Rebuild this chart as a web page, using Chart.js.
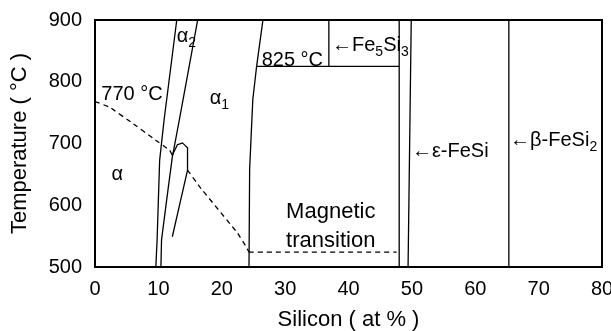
<!DOCTYPE html>
<html>
<head>
<meta charset="utf-8">
<script src="https://cdn.jsdelivr.net/npm/chart.js@4.4.1/dist/chart.umd.min.js"></script>
<style>
    html, body { margin: 0; padding: 0; background: #fff; }
</style>
</head>
<body>
<canvas id="chartFase" width="611" height="331"></canvas>
<script>
const xTicks = [0, 10, 20, 30, 40, 50, 60, 70, 80];
const yTicks = [500, 600, 700, 800, 900];

const alphaEsqSi = [12.9, 10.9, 10.2, 9.8, 9.6];
const alphaEsqT = [900, 738, 673, 544, 500];
const alphaDirSi = [16.2, 13.3, 12.2, 11.3, 10.5, 10.4];
const alphaDirT = [900, 738, 678, 608, 544, 500];
const laçoSi = [12.2, 13.0, 13.8, 14.6, 14.6, 14.6, 12.2];
const laçoT = [681, 698, 701, 693, 685, 657, 549];
const fe3SiSi = [26.5, 25.5, 24.9, 24.4, 24.3];
const fe3SiT = [900, 825, 771, 658, 500];
const eutetoideSi = [25.5, 48.0];
const eutetoideT = [825, 825];
const fe5Si3Si = [36.9, 36.9];
const fe5Si3T = [825, 900];
const feSiEsqSi = [48.0, 48.0];
const feSiEsqT = [900, 500];
const feSiDirSi = [49.9, 49.4];
const feSiDirT = [900, 500];
const feSi2Si = [65.3, 65.3];
const feSi2T = [900, 500];

const curieAltaSi = [0, 2.3, 5.9, 9.1, 11.8, 12.2];
const curieAltaT = [768, 759, 733, 709, 689, 681];
const curieBaixaSi = [14.6, 16.5, 22.5, 23.9, 24.3];
const curieBaixaT = [657, 630, 555, 532, 524];
const magneticaSi = [24.3, 47.6];
const magneticaT = [524, 524];

const rotulos = ["770 °C", "α_2", "α_1", "α", "825 °C", "←Fe_5Si_3", "←ε-FeSi", "←β-FeSi_2", "Magnetic", "transition"];
const rotuloSi = [1.0, 12.9, 18.1, 2.6, 26.3, 37.4, 50.0, 65.5, 37.2, 37.2];
const rotuloT = [770, 864, 764, 641, 825.5, 850, 678, 696, 579, 532];
const rotuloAlinha = ["left", "left", "left", "left", "left", "left", "left", "left", "center", "center"];
const rotuloTam = [20, 20, 20, 20, 20, 20, 20, 20, 22, 22];

const fonte = "'Liberation Sans', Arial, sans-serif";
const pares = (si, t) => si.map((x, i) => ({ x: x, y: t[i] }));

const linha = (si, t, tracejado) => ({
    data: pares(si, t),
    showLine: true,
    borderColor: "#000",
    borderWidth: 1.3,
    borderDash: tracejado ? [5, 4] : [],
    pointRadius: 0,
    tension: 0.0001,
    fill: false,
});

const rotulosPlugin = {
    id: "rotulos",
    afterDatasetsDraw(chart) {
        const { ctx, chartArea, scales } = chart;
        ctx.save();
        ctx.strokeStyle = "#000";
        ctx.lineWidth = 2;
        ctx.beginPath();
        ctx.moveTo(chartArea.left, chartArea.top);
        ctx.lineTo(chartArea.right, chartArea.top);
        ctx.lineTo(chartArea.right, chartArea.bottom);
        ctx.stroke();

        ctx.fillStyle = "#000";
        ctx.textBaseline = "alphabetic";
        ctx.textAlign = "left";
        rotulos.forEach((txt, i) => {
            const fonteNormal = rotuloTam[i] + "px " + fonte;
            const fonteSub = "14px " + fonte;
            const partes = txt
                .split(/(_\S)/)
                .filter((p) => p)
                .map((p) => (p[0] === "_" ? { t: p.slice(1), sub: true } : { t: p, sub: false }));
            let largura = 0;
            partes.forEach((p) => {
                ctx.font = p.sub ? fonteSub : fonteNormal;
                p.w = ctx.measureText(p.t).width;
                largura += p.w;
            });
            let px = scales.x.getPixelForValue(rotuloSi[i]);
            const py = scales.y.getPixelForValue(rotuloT[i]);
            if (rotuloAlinha[i] === "center") px -= largura / 2;
            partes.forEach((p) => {
                ctx.font = p.sub ? fonteSub : fonteNormal;
                ctx.fillText(p.t, px, p.sub ? py + 5 : py);
                px += p.w;
            });
        });
        ctx.restore();
    },
};

new Chart(document.getElementById("chartFase").getContext("2d"), {
    type: "scatter",
    data: {
        datasets: [
            linha(alphaEsqSi, alphaEsqT),
            linha(alphaDirSi, alphaDirT),
            linha(laçoSi, laçoT),
            linha(fe3SiSi, fe3SiT),
            linha(eutetoideSi, eutetoideT),
            linha(fe5Si3Si, fe5Si3T),
            linha(feSiEsqSi, feSiEsqT),
            linha(feSiDirSi, feSiDirT),
            linha(feSi2Si, feSi2T),
            linha(curieAltaSi, curieAltaT, true),
            linha(curieBaixaSi, curieBaixaT, true),
            linha(magneticaSi, magneticaT, true),
        ],
    },
    options: {
        responsive: false,
        animation: false,
        devicePixelRatio: 1,
        layout: { padding: { top: 20, right: 9, left: 0, bottom: 0 } },
        plugins: {
            legend: { display: false },
            tooltip: { enabled: false },
        },
        scales: {
            x: {
                type: "linear",
                min: 0,
                max: 80,
                afterBuildTicks: (s) => {
                    s.ticks = xTicks.map((v) => ({ value: v }));
                },
                afterFit: (s) => {
                    s.height = 64;
                    s.paddingLeft = 0;
                    s.paddingRight = 0;
                },
                grid: { display: false },
                border: { display: true, color: "#000", width: 2 },
                ticks: {
                    color: "#000",
                    font: { size: 20, family: fonte },
                    padding: 2,
                    maxRotation: 0,
                },
                title: {
                    display: true,
                    text: "Silicon ( at % )",
                    color: "#000",
                    font: { size: 22, family: fonte, lineHeight: 1 },
                    padding: 0,
                },
            },
            y: {
                type: "linear",
                min: 500,
                max: 900,
                afterBuildTicks: (s) => {
                    s.ticks = yTicks.map((v) => ({ value: v }));
                },
                afterFit: (s) => {
                    s.width = 95;
                    s.paddingTop = 0;
                    s.paddingBottom = 0;
                },
                grid: { display: false },
                border: { display: true, color: "#000", width: 2 },
                ticks: {
                    color: "#000",
                    font: { size: 20, family: fonte },
                    padding: 5,
                },
                title: {
                    display: true,
                    text: "Temperature ( °C )",
                    color: "#000",
                    font: { size: 22, family: fonte, lineHeight: 1 },
                    padding: { top: 9, bottom: 0 },
                },
            },
        },
    },
    plugins: [rotulosPlugin],
});
</script>
</body>
</html>
